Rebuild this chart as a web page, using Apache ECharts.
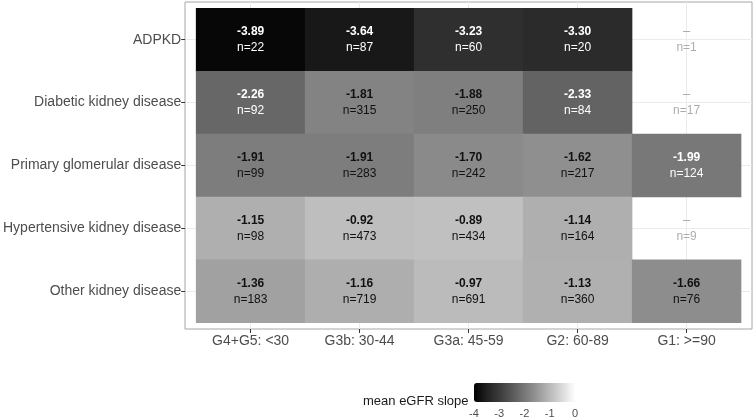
<!DOCTYPE html>
<html>
<head>
<meta charset="utf-8">
<script src="https://cdn.jsdelivr.net/npm/echarts@6/dist/echarts.min.js"></script>
<style>
  html, body { margin: 0; padding: 0; background: #fff; }
  #chart { width: 756px; height: 419px; }
</style>
</head>
<body>
<div id="chart"></div>
<script>
// categories
const stages = ['G4+G5: <30', 'G3b: 30-44', 'G3a: 45-59', 'G2: 60-89', 'G1: >=90']
const diseases = ['ADPKD', 'Diabetic kidney disease', 'Primary glomerular disease',
    'Hypertensive kidney disease', 'Other kidney disease']

// mean eGFR slope per disease (rows) x stage (cols), null = too few patients
const slopeADPKD = [-3.89, -3.64, -3.23, -3.30, null]
const slopeDiabetic = [-2.26, -1.81, -1.88, -2.33, null]
const slopePrimary = [-1.91, -1.91, -1.70, -1.62, -1.99]
const slopeHypertensive = [-1.15, -0.92, -0.89, -1.14, null]
const slopeOther = [-1.36, -1.16, -0.97, -1.13, -1.66]

// patient counts
const nADPKD = [22, 87, 60, 20, 1]
const nDiabetic = [92, 315, 250, 84, 17]
const nPrimary = [99, 283, 242, 217, 124]
const nHypertensive = [98, 473, 434, 164, 9]
const nOther = [183, 719, 691, 360, 76]

// legend ticks
const legendTicks = [-4, -3, -2, -1, 0]

const slopes = [slopeADPKD, slopeDiabetic, slopePrimary, slopeHypertensive, slopeOther]
const counts = [nADPKD, nDiabetic, nPrimary, nHypertensive, nOther]

let tiles = []
let missing = []
slopes.forEach((row, r) => {
    row.forEach((v, c) => {
        if (v === null) missing.push([c, r, counts[r][c]])
        else tiles.push([c, r, v, counts[r][c]])
    })
})

// panel box (ggplot style with 0.1 band expansion around tiles)
const panel = { left: 185, top: 2, width: 567, height: 327 }
const bw = panel.width / 5.2
const bh = panel.height / 5.2
const inner = {
    left: panel.left + 0.1 * bw,
    top: panel.top + 0.1 * bh,
    width: 5 * bw,
    height: 5 * bh
}

// black -> white, evenly spaced in L*
const greys = ['#000000', '#212121', '#3b3b3b', '#585858', '#777777', '#979797', '#b9b9b9', '#dbdbdb', '#ffffff']

let myChart = echarts.init(document.getElementById('chart'))
myChart.setOption({
    animation: false,
    textStyle: { fontFamily: 'Liberation Sans, Arial, sans-serif' },
    title: {
        text: 'mean eGFR slope',
        left: 363, top: 395, padding: 0,
        textStyle: { fontSize: 13, fontWeight: 'normal', color: '#1a1a1a' }
    },
    grid: [
        { left: panel.left, top: panel.top, width: panel.width, height: panel.height,
          show: true, borderColor: '#a6a6a6', borderWidth: 1, backgroundColor: '#fff' },
        { left: inner.left, top: inner.top, width: inner.width, height: inner.height },
        { left: 474, top: 383, width: 101, height: 19 }
    ],
    xAxis: [
        { gridIndex: 0, type: 'value', min: 0.4, max: 5.6,
          axisLine: { show: false }, axisLabel: { show: false },
          axisTick: { show: false, customValues: [1, 2, 3, 4, 5] },
          splitLine: { show: true, lineStyle: { color: '#ebebeb', width: 1 } } },
        { gridIndex: 1, type: 'category', data: stages, position: 'bottom',
          offset: 0.1 * bh,
          axisLine: { show: false },
          axisTick: { show: true, alignWithLabel: true, length: 4, lineStyle: { color: '#333' } },
          axisLabel: { fontSize: 14, color: '#4d4d4d', margin: 5 },
          splitLine: { show: false } },
        { gridIndex: 2, type: 'value', min: -4, max: 0, interval: 1, position: 'bottom',
          axisLine: { show: false },
          axisTick: { show: true, inside: true, length: 4, lineStyle: { color: '#fff' } },
          axisLabel: { fontSize: 11, color: '#4d4d4d', margin: 6 },
          splitLine: { show: false } },
        { gridIndex: 2, type: 'value', min: -4, max: 0, interval: 1, position: 'top',
          axisLine: { show: false },
          axisTick: { show: true, inside: true, length: 4, lineStyle: { color: '#fff' } },
          axisLabel: { show: false },
          splitLine: { show: false } }
    ],
    yAxis: [
        { gridIndex: 0, type: 'value', min: 0.4, max: 5.6,
          axisLine: { show: false }, axisLabel: { show: false },
          axisTick: { show: false, customValues: [1, 2, 3, 4, 5] },
          splitLine: { show: true, lineStyle: { color: '#ebebeb', width: 1 } } },
        { gridIndex: 1, type: 'category', data: diseases, inverse: true,
          offset: 0.1 * bw,
          axisLine: { show: false },
          axisTick: { show: true, alignWithLabel: true, length: 4, lineStyle: { color: '#333' } },
          axisLabel: { fontSize: 14, color: '#4d4d4d', margin: 4 },
          splitLine: { show: false } },
        { gridIndex: 2, type: 'value', show: false }
    ],
    visualMap: {
        type: 'continuous',
        seriesIndex: 0,
        dimension: 2,
        min: -4, max: 0,
        orient: 'horizontal',
        left: 474, top: 383, padding: 0,
        itemWidth: 19, itemHeight: 101,
        calculable: false,
        hoverLink: false,
        text: null,
        inRange: { color: greys }
    },
    series: [
        {
            type: 'heatmap',
            xAxisIndex: 1, yAxisIndex: 1,
            data: tiles,
            emphasis: { disabled: true },
            label: {
                show: true,
                formatter: (p) => {
                    let dark = p.value[2] < -1.95
                    let s = dark ? 'w' : 'b'
                    return '{' + s + 'v|' + p.value[2].toFixed(2) + '}\n{' + s + 'n|n=' + p.value[3] + '}'
                },
                rich: {
                    wv: { fontSize: 12, fontWeight: 'bold', color: '#fff', lineHeight: 16 },
                    wn: { fontSize: 12, color: '#fff', lineHeight: 16 },
                    bv: { fontSize: 12, fontWeight: 'bold', color: '#111', lineHeight: 16 },
                    bn: { fontSize: 12, color: '#111', lineHeight: 16 }
                }
            }
        },
        {
            type: 'scatter',
            xAxisIndex: 1, yAxisIndex: 1,
            data: missing,
            symbolSize: 0,
            silent: true,
            z: 5,
            label: {
                show: true,
                position: 'inside',
                formatter: (p) => '{d|\u2013}\n{n|n=' + p.value[2] + '}',
                rich: {
                    d: { fontSize: 13, color: '#8c8c8c', lineHeight: 16 },
                    n: { fontSize: 12, color: '#999', lineHeight: 16 }
                }
            }
        }
    ]
})
</script>
</body>
</html>
